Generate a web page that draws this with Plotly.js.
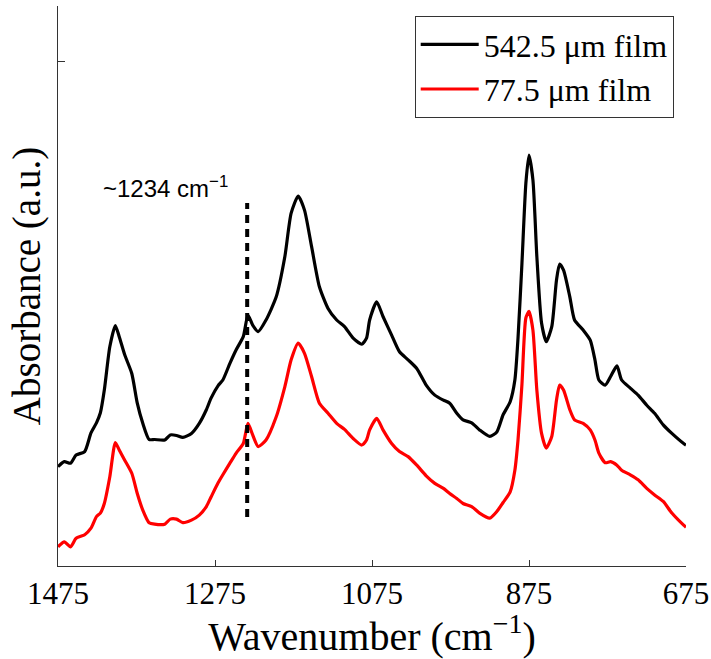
<!DOCTYPE html>
<html>
<head>
<meta charset="utf-8">
<script src="https://cdn.plot.ly/plotly-3.0.1.min.js"></script>
<style>html,body{margin:0;padding:0;background:#fff;}#chart{width:711px;height:659px;}</style>
</head>
<body>
<div id="chart"></div>
<script>
const wavenumber = [1475,1467,1459,1452,1441,1433,1426,1421,1416,1409,1402,1397,1390,1381,1374,1367,1359,1352,1339,1332,1324,1316,1305,1295,1286,1280,1271,1265,1256,1248,1239,1233,1227,1220,1210,1197,1186,1178,1169,1161,1152,1142,1131,1120,1110,1099,1088,1082,1078,1069,1061,1050,1040,1029,1018,1006,995,984,976,967,959,948,938,925,916,908,899,893,889,884,879,875,870,865,859,853,846,840,836,831,823,817,806,797,791,786,778,771,763,757,746,736,725,715,704,693,678,675];
const thickFilm = [0.197,0.207,0.204,0.220,0.227,0.264,0.284,0.304,0.349,0.435,0.477,0.455,0.419,0.382,0.323,0.283,0.251,0.251,0.250,0.260,0.259,0.255,0.263,0.283,0.310,0.333,0.358,0.369,0.402,0.429,0.455,0.498,0.478,0.465,0.488,0.534,0.614,0.700,0.734,0.706,0.634,0.554,0.511,0.488,0.475,0.452,0.440,0.452,0.488,0.524,0.495,0.458,0.425,0.409,0.392,0.359,0.339,0.329,0.323,0.303,0.290,0.284,0.270,0.257,0.266,0.300,0.326,0.369,0.452,0.600,0.759,0.815,0.766,0.614,0.482,0.445,0.475,0.567,0.599,0.587,0.534,0.488,0.468,0.448,0.409,0.369,0.359,0.376,0.397,0.369,0.353,0.339,0.319,0.303,0.280,0.263,0.243,0.240];
const thinFilm = [0.038,0.048,0.038,0.055,0.062,0.075,0.098,0.105,0.124,0.177,0.245,0.230,0.210,0.184,0.144,0.111,0.086,0.083,0.083,0.093,0.093,0.086,0.091,0.101,0.118,0.137,0.165,0.181,0.204,0.224,0.243,0.283,0.260,0.237,0.250,0.296,0.356,0.409,0.442,0.422,0.376,0.323,0.303,0.283,0.271,0.253,0.240,0.250,0.270,0.293,0.270,0.243,0.227,0.217,0.200,0.179,0.164,0.154,0.144,0.134,0.124,0.118,0.105,0.095,0.108,0.126,0.147,0.190,0.250,0.360,0.492,0.505,0.468,0.349,0.263,0.234,0.257,0.329,0.359,0.349,0.310,0.290,0.283,0.270,0.250,0.224,0.205,0.207,0.200,0.190,0.181,0.171,0.154,0.141,0.128,0.105,0.081,0.077];
const seriesNames = ["542.5 \u03bcm film", "77.5 \u03bcm film"];
const xTicks = [1475, 1275, 1075, 875, 675];
const markerWavenumber = 1234;
const markerRange = [0.097, 0.720];
const markerLabel = "~1234 cm<sup>\u22121</sup>";

const serif = "'Liberation Serif', 'DejaVu Serif', serif";
const traces = [
  {x: wavenumber, y: thickFilm, type: 'scatter', mode: 'lines', name: seriesNames[0],
   line: {color: '#000000', width: 3.2, shape: 'spline', smoothing: 0.6}},
  {x: wavenumber, y: thinFilm, type: 'scatter', mode: 'lines', name: seriesNames[1],
   line: {color: '#ff0000', width: 3.2, shape: 'spline', smoothing: 0.6}}
];
const layout = {
  width: 711, height: 659,
  margin: {l: 58, r: 25, t: 6, b: 93},
  paper_bgcolor: '#ffffff', plot_bgcolor: '#ffffff',
  showlegend: true,
  legend: {x: 0.568, y: 0.982, xanchor: 'left', yanchor: 'top',
    bordercolor: '#333333', borderwidth: 1, bgcolor: '#ffffff',
    font: {family: serif, size: 32, color: '#000'}, tracegroupgap: 0, itemwidth: 58},
  xaxis: {range: [1475, 675], autorange: false, tickvals: xTicks, ticktext: xTicks.map(String),
    ticks: 'inside', ticklen: 6, tickcolor: '#333', showline: true, linecolor: '#333', linewidth: 1,
    showgrid: false, zeroline: false, mirror: false,
    tickfont: {family: serif, size: 31, color: '#000'},
    title: {text: 'Wavenumber (cm<sup>\u22121</sup>)', font: {family: serif, size: 40, color: '#000'}, standoff: 4}},
  yaxis: {range: [0, 1.111], autorange: false, tickvals: [1], showticklabels: false,
    ticks: 'inside', ticklen: 7, tickcolor: '#333', showline: true, linecolor: '#333', linewidth: 1,
    showgrid: false, zeroline: false,
    title: {text: 'Absorbance (a.u.)', font: {family: serif, size: 39, color: '#000'}, standoff: 4}},
  shapes: [{type: 'line', xref: 'x', yref: 'y', x0: markerWavenumber, x1: markerWavenumber,
    y0: markerRange[0], y1: markerRange[1], line: {color: '#000', width: 4, dash: '8px,6px'}}],
  annotations: [{x: 1338, y: 0.752, xref: 'x', yref: 'y', text: markerLabel, showarrow: false,
    font: {family: "'Liberation Sans', Arial, sans-serif", size: 24, color: '#000'}}]
};
Plotly.newPlot('chart', traces, layout, {displayModeBar: false, staticPlot: true});
</script>
</body>
</html>
